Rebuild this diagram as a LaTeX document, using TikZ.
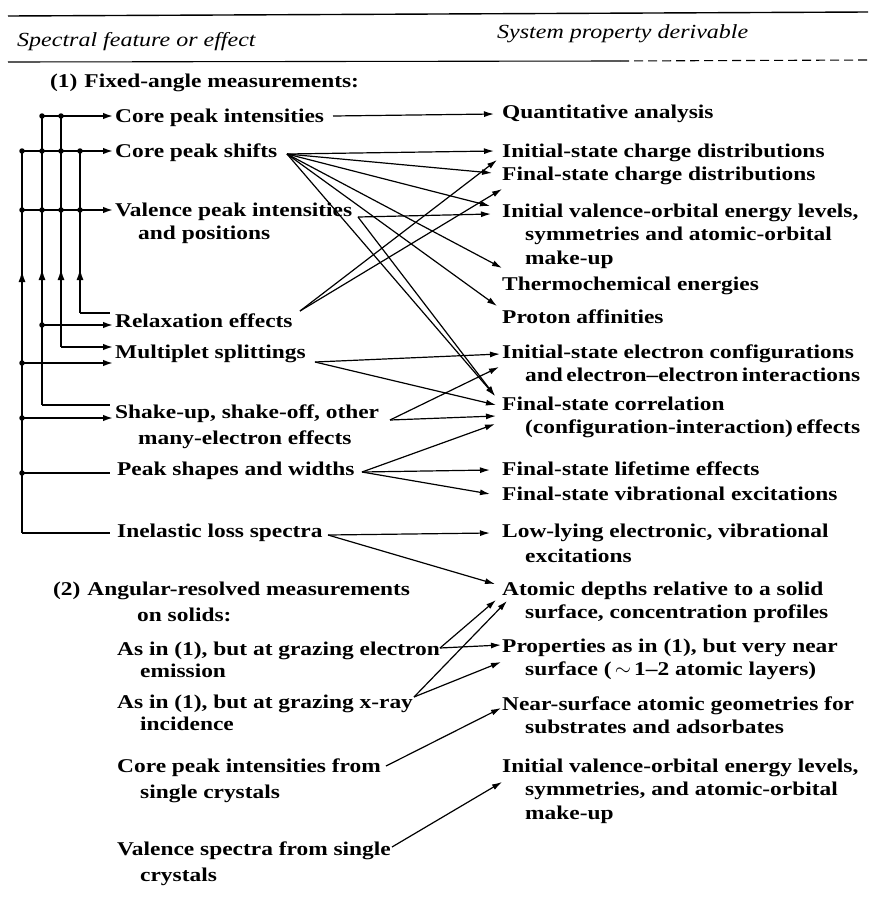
\documentclass[tikz,border=0pt]{standalone}
\usepackage{fontspec}
\setmainfont{Liberation Serif}[FakeStretch=1.2]
\usetikzlibrary{arrows.meta}
\newcommand{\mybody}{\fontsize{19.5pt}{23.5pt}\selectfont\bfseries}
\newcommand{\myhdr}{\fontsize{20pt}{23.5pt}\selectfont\itshape}
\newcommand{\ind}{\hspace*{23pt}}
\newcommand{\ml}[1]{\begin{tabular}[t]{@{}l@{}}#1\end{tabular}}
\newcommand{\tightsp}{\spaceskip=0.18em plus 0.05em\relax}
\begin{document}
\begin{tikzpicture}[x=1pt,y=-1pt,
  lbl/.style={anchor=base west, inner sep=0pt, font=\mybody},
  hdr/.style={anchor=base west, inner sep=0pt, font=\myhdr},
  vbus/.style={line width=2.2pt},
  hbus/.style={line width=1.7pt},
  barr/.style={hbus, -{Latex[length=10pt,width=6.5pt]}},
  uparr/.style={line width=2.2pt, -{Latex[length=12pt,width=7pt]}},
  con/.style={line width=1.2pt, -{Latex[length=10pt,width=6pt]}},
  jdot/.style={circle, fill=black, inner sep=0pt, minimum size=5.5pt},
  rule/.style={line width=1.4pt}
]
\fill[white] (0,0) rectangle (868,900);
\useasboundingbox (0,0) rectangle (868,900);

% rules
\coordinate (r1a) at (8,16); \coordinate (r1b) at (868,12);
\coordinate (r2a) at (8,62); \coordinate (r2m) at (620,61); \coordinate (r2b) at (868,60);
\draw[rule] (r1a) -- (r1b);
\draw[line width=1.1pt] (r2a) -- (r2m);
\draw[line width=1.1pt, dash pattern=on 9pt off 5pt] (r2m) -- (r2b);

% headers
\node[hdr] (h1) at (17,46) {Spectral feature or effect};
\node[hdr] (h2) at (497,38) {System property derivable};

% left column
\node[lbl] (sec1) at (50,87) {(1)\hspace{7pt}Fixed-angle measurements:};
\node[lbl] (cpi) at (115,122) {Core peak intensities};
\node[lbl] (cps) at (115,157) {Core peak shifts};
\node[lbl] (vpi) at (115,216) {\ml{Valence peak intensities\\\ind and positions}};
\node[lbl] (rel) at (115,327) {Relaxation effects};
\node[lbl] (mul) at (115,358) {Multiplet splittings};
\node[lbl] (shk) at (115,418) {\ml{Shake-up, shake-off, other\\[3pt]\ind many-electron effects}};
\node[lbl] (psw) at (117,475) {Peak shapes and widths};
\node[lbl] (ils) at (117,537) {Inelastic loss spectra};
\node[lbl] (sec2) at (53,595) {\ml{(2)\hspace{7pt}Angular-resolved measurements\\[3pt]\hspace*{84pt}on solids:}};
\node[lbl] (ge) at (117,655) {\ml{As in (1), but at grazing electron\\[-1.5pt]\ind emission}};
\node[lbl] (gx) at (117,708) {\ml{As in (1), but at grazing x-ray\\[-1.5pt]\ind incidence}};
\node[lbl] (cpx) at (117,772) {\ml{Core peak intensities from\\[2.5pt]\ind single crystals}};
\node[lbl] (vsx) at (117,855) {\ml{Valence spectra from single\\[3pt]\ind crystals}};

% right column
\node[lbl] (qa) at (502,118) {Quantitative analysis};
\node[lbl] (iscd) at (502,157) {Initial-state charge distributions};
\node[lbl] (fscd) at (502,180) {Final-state charge distributions};
\node[lbl] (ivo) at (502,217) {\ml{Initial valence-orbital energy levels,\\\ind symmetries and atomic-orbital\\\ind make-up}};
\node[lbl] (tce) at (502,290) {Thermochemical energies};
\node[lbl] (pa) at (502,323) {Proton affinities};
\node[lbl] (isec) at (502,358) {\ml{Initial-state electron configurations\\\ind{\tightsp and electron--electron interactions}}};
\node[lbl] (fsc) at (502,410) {\ml{Final-state correlation\\\ind{\tightsp (configuration-interaction) effects}}};
\node[lbl] (fsl) at (502,475) {Final-state lifetime effects};
\node[lbl] (fsv) at (502,500) {Final-state vibrational excitations};
\node[lbl] (lle) at (502,537) {\ml{Low-lying electronic, vibrational\\[1.5pt]\ind excitations}};
\node[lbl] (adp) at (502,595) {\ml{Atomic depths relative to a solid\\\ind surface, concentration profiles}};
\node[lbl] (pai) at (502,652) {\ml{Properties as in (1), but very near\\\ind surface (\,$\sim$\,1--2 atomic layers)}};
\node[lbl] (nsg) at (502,710) {\ml{Near-surface atomic geometries for\\\ind substrates and adsorbates}};
\node[lbl] (ivb) at (502,772) {\ml{Initial valence-orbital energy levels,\\\ind symmetries, and atomic-orbital\\\ind make-up}};

% ---- left bus ----
\coordinate (A1) at (22,151); \coordinate (A2) at (22,210); \coordinate (A3) at (22,363);
\coordinate (A4) at (22,418); \coordinate (A5) at (22,473); \coordinate (A6) at (22,533);
\coordinate (B0) at (42,116); \coordinate (B1) at (42,151); \coordinate (B2) at (42,210);
\coordinate (B3) at (42,325); \coordinate (B4) at (42,405);
\coordinate (C0) at (61,116); \coordinate (C1) at (61,151); \coordinate (C2) at (61,210); \coordinate (C3) at (61,347);
\coordinate (D1) at (80,151); \coordinate (D2) at (80,210); \coordinate (D3) at (80,313);
\coordinate (cpi-in) at (113,116); \coordinate (cps-in) at (113,151); \coordinate (vpi-in) at (113,210);
\coordinate (rel-inD) at (110,313); \coordinate (rel-inB) at (113,325);
\coordinate (mul-inC) at (113,347); \coordinate (mul-inA) at (113,363);
\coordinate (shk-inB) at (110,405); \coordinate (shk-inA) at (113,418);
\coordinate (psw-in) at (110,473); \coordinate (ils-in) at (110,533);

\draw[vbus] (A1) -- (A6); \draw[hbus] (A6) -- (ils-in);
\draw[vbus] (B0) -- (B4); \draw[hbus] (B4) -- (shk-inB);
\draw[vbus] (C0) -- (C3); \draw[barr] (C3) -- (mul-inC);
\draw[vbus] (D1) -- (D3); \draw[hbus] (D3) -- (rel-inD);
\draw[barr] (B0) -- (cpi-in);
\draw[barr] (A1) -- (cps-in);
\draw[barr] (A2) -- (vpi-in);
\draw[barr] (B3) -- (rel-inB);
\draw[barr] (A3) -- (mul-inA);
\draw[barr] (A4) -- (shk-inA);
\draw[hbus] (A5) -- (psw-in);
\draw[uparr] (22,292) -- (22,270);
\draw[uparr] (42,290) -- (42,268);
\draw[uparr] (61,290) -- (61,268);
\draw[uparr] (80,290) -- (80,268);
\foreach \p in {A1,A2,A3,A4,A5,B0,B1,B2,B3,C0,C1,C2,D1,D2}
  \node[jdot] at (\p) {};

% ---- connectors ----
\coordinate (cpi-o) at (333,116);
\coordinate (cps-o) at (287,154);
\coordinate (vpi-o) at (358,217);
\coordinate (rel-o) at (300,311);
\coordinate (mul-o) at (315,362);
\coordinate (shk-o) at (390,420);
\coordinate (psw-o) at (362,472);
\coordinate (ils-o) at (328,535);
\coordinate (ge-o) at (440,648);
\coordinate (gx-o) at (414,697);
\coordinate (cpx-o) at (386,766);
\coordinate (vsx-o) at (392,847);

\coordinate (qa-t) at (494,114);
\coordinate (iscd-t) at (494,151);
\coordinate (fscd-t1) at (497,160);
\coordinate (fscd-t2) at (492,173);
\coordinate (fscd-t3) at (502,189);
\coordinate (ivo-t1) at (490,206);
\coordinate (ivo-t2) at (491,214);
\coordinate (tce-t) at (502,268);
\coordinate (pa-t) at (497,306);
\coordinate (isec-t1) at (500,354);
\coordinate (isec-t2) at (499,367);
\coordinate (fsc-t1) at (495,396);
\coordinate (fsc-t2) at (496,405);
\coordinate (fsc-t3) at (496,416);
\coordinate (fsc-t4) at (495,424);
\coordinate (fsl-t) at (490,470);
\coordinate (fsv-t) at (490,494);
\coordinate (lle-t) at (490,533);
\coordinate (adp-t1) at (495,584);
\coordinate (adp-t2) at (496,600);
\coordinate (adp-t3) at (507,601);
\coordinate (pai-t1) at (501,645);
\coordinate (pai-t2) at (501,662);
\coordinate (nsg-t) at (501,708);
\coordinate (ivb-t) at (502,782);

\draw[con] (cpi-o) -- (qa-t);
\draw[con] (cps-o) -- (iscd-t);
\draw[con] (cps-o) -- (fscd-t2);
\draw[con] (cps-o) -- (ivo-t1);
\draw[con] (cps-o) -- (tce-t);
\draw[con] (cps-o) -- (pa-t);
\draw[con] (cps-o) -- (fsc-t1);
\draw[con] (vpi-o) -- (ivo-t2);
\draw[con] (vpi-o) -- (fsc-t1);
\draw[con] (rel-o) -- (fscd-t1);
\draw[con] (rel-o) -- (fscd-t3);
\draw[con] (mul-o) -- (isec-t1);
\draw[con] (mul-o) -- (fsc-t2);
\draw[con] (shk-o) -- (isec-t2);
\draw[con] (shk-o) -- (fsc-t3);
\draw[con] (psw-o) -- (fsc-t4);
\draw[con] (psw-o) -- (fsl-t);
\draw[con] (psw-o) -- (fsv-t);
\draw[con] (ils-o) -- (lle-t);
\draw[con] (ils-o) -- (adp-t1);
\draw[con] (ge-o) -- (adp-t2);
\draw[con] (ge-o) -- (pai-t1);
\draw[con] (gx-o) -- (adp-t3);
\draw[con] (gx-o) -- (pai-t2);
\draw[con] (cpx-o) -- (nsg-t);
\draw[con] (vsx-o) -- (ivb-t);
\end{tikzpicture}
\end{document}
